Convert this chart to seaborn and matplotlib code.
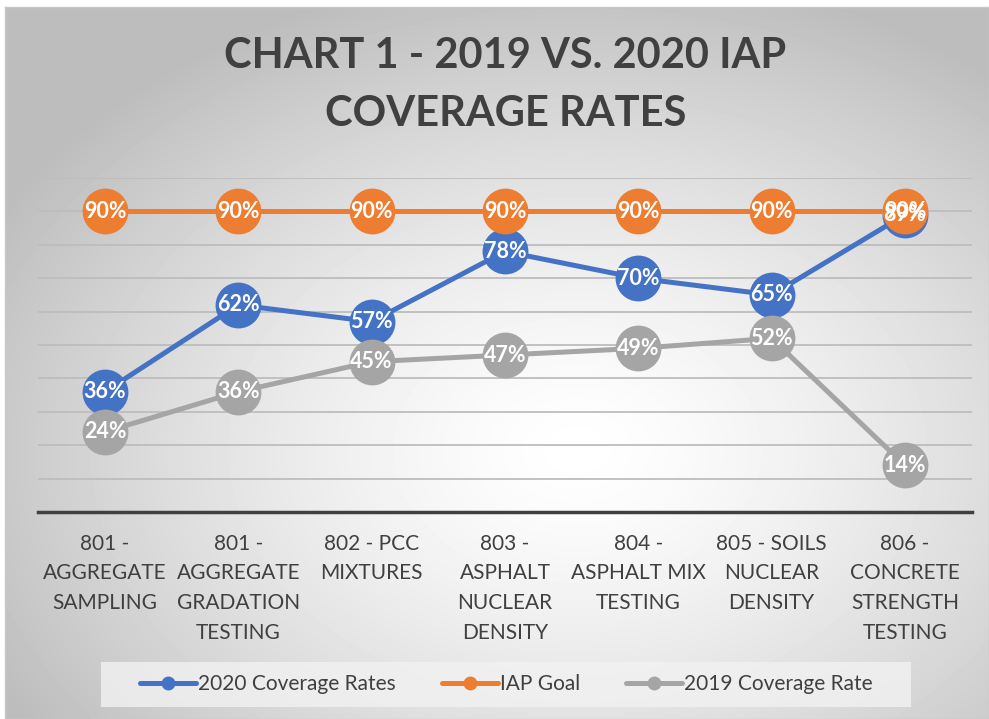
import numpy as np
import pandas as pd
import matplotlib
matplotlib.use("Agg")
import matplotlib.pyplot as plt
from matplotlib.lines import Line2D
from matplotlib.patches import Rectangle
import seaborn as sns

# Chart data
categories = [
    "801 -\nAGGREGATE\nSAMPLING",
    "801 -\nAGGREGATE\nGRADATION\nTESTING",
    "802 - PCC\nMIXTURES",
    "803 -\nASPHALT\nNUCLEAR\nDENSITY",
    "804 -\nASPHALT MIX\nTESTING",
    "805 - SOILS\nNUCLEAR\nDENSITY",
    "806 -\nCONCRETE\nSTRENGTH\nTESTING",
]
rates_2020 = [36, 62, 57, 78, 70, 65, 89]
iap_goal = [90, 90, 90, 90, 90, 90, 90]
rates_2019 = [24, 36, 45, 47, 49, 52, 14]
series_names = ["2020 Coverage Rates", "IAP Goal", "2019 Coverage Rate"]
series_colors = ["#4472C4", "#ED7D31", "#A5A5A5"]

df = pd.DataFrame({
    "pos": list(range(len(categories))) * 3,
    "value": rates_2020 + iap_goal + rates_2019,
    "series": [s for s in series_names for _ in categories],
})

sns.set_style("white")
plt.rcParams["font.family"] = ["Lato", "DejaVu Sans"]

W, H = 989, 719
fig = plt.figure(figsize=(W / 100, H / 100), dpi=100)
fig.patch.set_facecolor("white")

# radial grey gradient background with a thin border
bg = fig.add_axes([5 / W, 0, 1 - 5 / W, 1 - 7 / H], zorder=-10)
yy, xx = np.mgrid[0:200, 0:300]
cx, cy = 0.58 * 300, 0.62 * 200
r = np.sqrt(((xx - cx) / 300) ** 2 + ((yy - cy) / 200) ** 2)
shade = np.clip(1.0 - 0.45 * r ** 1.4, 0.74, 1.0)
bg.imshow(shade, cmap="gray", vmin=0, vmax=1, aspect="auto",
          extent=[0, 1, 0, 1], origin="upper", interpolation="bicubic")
bg.set_xticks([])
bg.set_yticks([])
for sp in bg.spines.values():
    sp.set_color("#c8c8c8")
    sp.set_linewidth(1)

ax = fig.add_axes([38.3 / W, (H - 512) / H, 933.3 / W, (512 - 178) / H])
ax.set_facecolor("none")

sns.lineplot(data=df, x="pos", y="value", hue="series", hue_order=series_names,
             palette=series_colors, marker="o", markersize=33, linewidth=3.6,
             markeredgewidth=0, ax=ax, legend=False, clip_on=False, zorder=3)

for name, vals in zip(series_names, [rates_2020, iap_goal, rates_2019]):
    for i, v in enumerate(vals):
        ax.text(i, v, f"{v}%", ha="center", va="center", color="white",
                fontsize=15.5, fontweight="bold", zorder=10)

ax.set_xlim(-0.5, len(categories) - 0.5)
ax.set_ylim(0, 100)
ax.set_yticks(range(10, 101, 10))
ax.set_yticklabels([])
ax.grid(axis="y", color="#bdbdbd", linewidth=1.3, zorder=0)
ax.set_axisbelow(True)
ax.tick_params(left=False, bottom=False)
for sp in ["top", "right", "left"]:
    ax.spines[sp].set_visible(False)
ax.spines["bottom"].set_color("#404040")
ax.spines["bottom"].set_linewidth(2.5)
ax.set_xticks(range(len(categories)))
ax.set_xticklabels(categories, fontsize=15, color="#404040", linespacing=1.62)
ax.tick_params(axis="x", pad=12)
ax.set_xlabel("")
ax.set_ylabel("")

fig.text(0.511, 1 - 85 / H, "CHART 1 - 2019 VS. 2020 IAP\nCOVERAGE RATES",
         ha="center", va="center", fontsize=30, fontweight="bold",
         color="#404040", linespacing=1.62)

# legend box
fig.patches.append(Rectangle((101 / W, 1 - 707 / H), 810 / W, 45 / H,
                             transform=fig.transFigure, facecolor="#f2f2f2",
                             alpha=0.8, edgecolor="none", zorder=1))
handles = [Line2D([0], [0], color=c, linewidth=3.6, marker="o", markersize=9)
           for c in series_colors]
leg = fig.legend(handles, series_names, loc="center", bbox_to_anchor=(0.512, 1 - 684 / H),
                 ncol=3, frameon=False, fontsize=15, handlelength=2.7,
                 columnspacing=2.2, handletextpad=0.1)
for t in leg.get_texts():
    t.set_color("#404040")

fig.savefig("out.png", dpi=100)
